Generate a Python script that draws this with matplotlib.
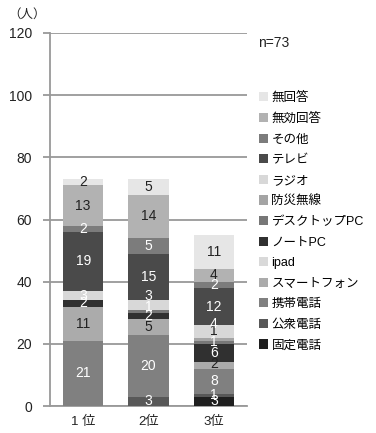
import numpy as np
import matplotlib.pyplot as plt

plt.rcParams['font.family'] = ['Liberation Sans', 'Noto Sans CJK JP', 'DejaVu Sans']

# ranks on the x axis
ranks = ["1 位", "2位", "3位"]

# stacked series, bottom to top
series = ["固定電話", "公衆電話", "携帯電話", "スマートフォン", "ipad", "ノートPC",
          "デスクトップPC", "防災無線", "ラジオ", "テレビ", "その他", "無効回答", "無回答"]
values = {
    "固定電話":      [0, 0, 3],
    "公衆電話":      [0, 3, 1],
    "携帯電話":      [21, 20, 8],
    "スマートフォン": [11, 5, 2],
    "ipad":          [0, 0, 0],
    "ノートPC":      [2, 2, 6],
    "デスクトップPC": [0, 1, 1],
    "防災無線":      [0, 0, 1],
    "ラジオ":        [3, 3, 4],
    "テレビ":        [19, 15, 12],
    "その他":        [2, 5, 2],
    "無効回答":      [13, 14, 4],
    "無回答":        [2, 5, 11],
}
n_total = 73

colors = {
    "固定電話": "#1f1f1f", "公衆電話": "#585858", "携帯電話": "#808080",
    "スマートフォン": "#ababab", "ipad": "#d9d9d9", "ノートPC": "#303030",
    "デスクトップPC": "#777777", "防災無線": "#a4a4a4", "ラジオ": "#d8d8d8",
    "テレビ": "#4a4a4a", "その他": "#7c7c7c", "無効回答": "#b2b2b2", "無回答": "#e6e6e6",
}
# white text on darker fills
white_text = {"固定電話", "公衆電話", "携帯電話", "ノートPC", "デスクトップPC",
              "テレビ", "その他", "ラジオ"}
# small segments get their label nudged so the numbers don't collide
nudge = {(1, "ラジオ"): 3.0, (1, "デスクトップPC"): 1.5,
         (2, "ラジオ"): 2.5, (2, "防災無線"): 2.5, (2, "スマートフォン"): 0.5}

fig = plt.figure(figsize=(3.76, 4.33), dpi=100)
ax = fig.add_axes([50 / 376, 1 - 406 / 433, 197 / 376, 373 / 433])

x = np.arange(len(ranks))
bottom = np.zeros(len(ranks))
handles = []
for name in series:
    v = np.array(values[name], dtype=float)
    h = ax.bar(x, v, bottom=bottom, width=0.615, color=colors[name], zorder=3, label=name)
    handles.append(h)
    for i in range(len(ranks)):
        if v[i] > 0:
            y = bottom[i] + v[i] / 2 + nudge.get((i, name), 0.0)
            tc = "white" if name in white_text else "#222222"
            ax.text(x[i], y, f"{int(v[i])}", ha="center", va="center",
                    fontsize=10, color=tc, zorder=4)
    bottom += v

ax.set_xlim(-0.508, 2.508)
ax.set_ylim(0, 120)
ax.set_yticks(np.arange(0, 121, 20))
ax.set_xticks(x)
ax.set_xticklabels(ranks, fontsize=9.5, color="#222222")
ax.tick_params(axis="y", length=5, width=1.3, color="#999999", labelsize=10,
               labelcolor="#222222", pad=8)
ax.tick_params(axis="x", length=0, pad=7)
ax.grid(axis="y", color="#999999", linewidth=1.3, zorder=0)
for s in ["top", "right"]:
    ax.spines[s].set_visible(False)
for s in ["left", "bottom"]:
    ax.spines[s].set_color("#999999")
    ax.spines[s].set_linewidth(1.3)

fig.text(8 / 376, 1 - 15 / 433, "（人）", fontsize=9, va="center", ha="left", color="#222222")
fig.text(258 / 376, 1 - 43 / 433, f"n={n_total}", fontsize=10, va="center", ha="left",
         color="#222222")

fig.legend(handles[::-1], series[::-1], loc="upper left",
           bbox_to_anchor=(259 / 376, 1 - 92 / 433), frameon=False, fontsize=9,
           handlelength=0.75, handleheight=0.75, handletextpad=0.25,
           labelspacing=0.685, borderpad=0, borderaxespad=0)

fig.savefig("out.png", dpi=100)
